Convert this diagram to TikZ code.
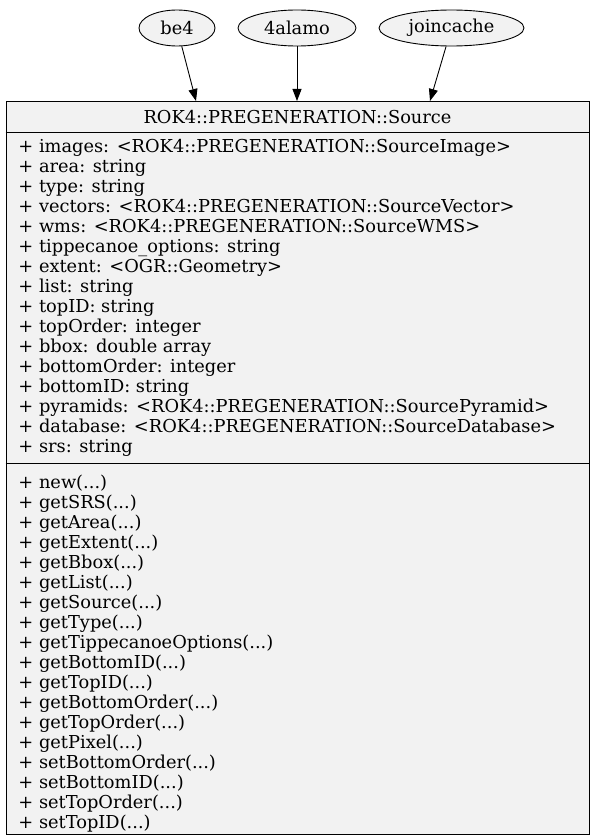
\documentclass[tikz,border=0pt]{standalone}
\usepackage{fontspec}
\setmainfont{DejaVu Serif}
\usepackage{tikz}
\usetikzlibrary{arrows.meta,shapes.geometric}
\definecolor{grey95}{HTML}{F2F2F2}
\newcommand{\args}{(...)}

\begin{document}
\begin{tikzpicture}[x=1pt, y=-1pt, line width=0.9pt,
  font=\fontsize{17.8}{20}\selectfont,
  client/.style={ellipse, draw, fill=grey95, inner sep=0pt, minimum height=36pt},
  member/.style={anchor=west, inner sep=0pt, text height=12pt, text depth=4pt},
  dep/.style={-{Triangle[length=12pt,width=9pt]}}]
\useasboundingbox (0,0) rectangle (595,840);

\node[client, minimum width=76pt]  (be4)       at (177,28)   {be4};
\node[client, minimum width=118pt] (alamo)     at (297,28)   {4alamo};
\node[client, minimum width=145pt] (joincache) at (451.5,28) {joincache};

\node[draw, fill=grey95, inner sep=0pt, minimum width=583pt, minimum height=733pt] (src) at (297.5,467.5) {};
\node (title) at (297.5,117) {ROK4::PREGENERATION::Source};
\draw (src.west |- 0,132) -- (src.east |- 0,132);
\draw (src.west |- 0,463) -- (src.east |- 0,463);

% attributes
\foreach \m [count=\i from 0] in {%
  + images: <ROK4::PREGENERATION::SourceImage>,
  + area: string,
  + type: string,
  + vectors: <ROK4::PREGENERATION::SourceVector>,
  + wms: <ROK4::PREGENERATION::SourceWMS>,
  + tippecanoe\_options: string,
  + extent: <OGR::Geometry>,
  + list: string,
  + topID: string,
  + topOrder: integer,
  + bbox: double array,
  + bottomOrder: integer,
  + bottomID: string,
  + pyramids: <ROK4::PREGENERATION::SourcePyramid>,
  + database: <ROK4::PREGENERATION::SourceDatabase>,
  + srs: string}
  \node[member] (a\i) at (18,148.5+20*\i) {\m};

% methods
\foreach \m [count=\i from 0] in {%
  + new\args, + getSRS\args, + getArea\args, + getExtent\args,
  + getBbox\args, + getList\args, + getSource\args, + getType\args,
  + getTippecanoeOptions\args, + getBottomID\args, + getTopID\args,
  + getBottomOrder\args, + getTopOrder\args, + getPixel\args,
  + setBottomOrder\args, + setBottomID\args, + setTopOrder\args,
  + setTopID\args}
  \node[member] (m\i) at (18,484+20*\i) {\m};

\coordinate (t1) at (196,101);
\coordinate (t2) at (297,101);
\coordinate (t3) at (430,101);
\draw[dep] (be4) -- (t1);
\draw[dep] (alamo) -- (t2);
\draw[dep] (joincache) -- (t3);
\end{tikzpicture}
\end{document}
